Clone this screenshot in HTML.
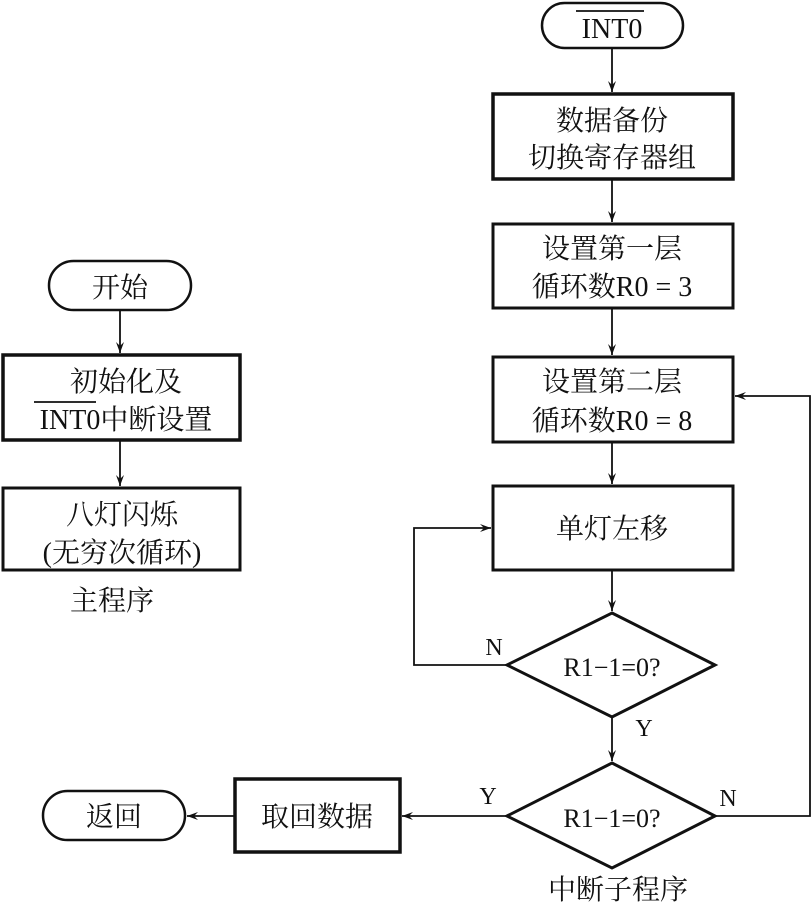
<!DOCTYPE html>
<html><head><meta charset="utf-8"><style>
html,body{margin:0;padding:0;background:#fff}
svg{display:block}
text{font-family:"Liberation Serif","Noto Serif CJK SC","Noto Sans CJK SC",serif;fill:#111}
</style></head><body>
<svg width="811" height="909" viewBox="0 0 811 909" xmlns="http://www.w3.org/2000/svg">
<defs>
<marker id="a" markerWidth="12" markerHeight="10" refX="11" refY="5" orient="auto" markerUnits="userSpaceOnUse">
<path d="M0,1 L11,5 L0,9 L4,5 Z" fill="#111"/>
</marker>
</defs>
<g stroke="#111" fill="none">
<!-- right column -->
<rect x="542" y="3" width="141" height="45" rx="22.5" stroke-width="2.5"/>
<rect x="493" y="94" width="240" height="85" stroke-width="3.5"/>
<rect x="493" y="224" width="240" height="84" stroke-width="3"/>
<rect x="493" y="357" width="240" height="85" stroke-width="3"/>
<rect x="493" y="486" width="240" height="84" stroke-width="3"/>
<polygon points="612,613 715,665 612,717 507,665" stroke-width="3"/>
<polygon points="612,763 715,816 612,868 507,816" stroke-width="3"/>
<rect x="235" y="779" width="165" height="73" stroke-width="3.5"/>
<rect x="43" y="791" width="142" height="49" rx="24.5" stroke-width="2.5"/>
<!-- left -->
<rect x="49" y="261" width="142" height="49" rx="24.5" stroke-width="2.5"/>
<rect x="3" y="355" width="237" height="85" stroke-width="3.5"/>
<rect x="3" y="488" width="237" height="82" stroke-width="3"/>
<g stroke-width="1.8">
<line x1="612" y1="48" x2="612" y2="92" marker-end="url(#a)"/>
<line x1="612" y1="179" x2="612" y2="222" marker-end="url(#a)"/>
<line x1="612" y1="308" x2="612" y2="355" marker-end="url(#a)"/>
<line x1="612" y1="442" x2="612" y2="484" marker-end="url(#a)"/>
<line x1="612" y1="570" x2="612" y2="611" marker-end="url(#a)"/>
<line x1="612" y1="717" x2="612" y2="761" marker-end="url(#a)"/>
<polyline points="507,665 414,665 414,528 491,528" marker-end="url(#a)"/>
<polyline points="715,816 810,816 810,396 735,396" marker-end="url(#a)"/>
<line x1="507" y1="816" x2="402" y2="816" marker-end="url(#a)"/>
<line x1="235" y1="816" x2="187" y2="816" marker-end="url(#a)"/>
<line x1="120" y1="310" x2="120" y2="353" marker-end="url(#a)"/>
<line x1="120" y1="440" x2="120" y2="486" marker-end="url(#a)"/>
<line x1="576" y1="11" x2="644" y2="11"/>
<line x1="34" y1="402" x2="96" y2="402"/>
</g>
</g>
<g font-size="28" text-anchor="middle">
<text x="612" y="38">INT0</text>
<text x="612" y="130">数据备份</text>
<text x="612" y="167">切换寄存器组</text>
<text x="612" y="258">设置第一层</text>
<text x="612" y="296">循环数R0 = 3</text>
<text x="612" y="391">设置第二层</text>
<text x="612" y="430">循环数R0 = 8</text>
<text x="612" y="538">单灯左移</text>
<text x="612" y="676" font-size="26">R1−1=0?</text>
<text x="612" y="827" font-size="26">R1−1=0?</text>
<text x="317" y="826">取回数据</text>
<text x="114" y="826">返回</text>
<text x="120" y="297">开始</text>
<text x="126" y="391">初始化及</text>
<text x="126" y="429">INT0中断设置</text>
<text x="122" y="524">八灯闪烁</text>
<text x="122" y="562">(无穷次循环)</text>
<text x="112" y="610">主程序</text>
<text x="618" y="899">中断子程序</text>
<text x="494" y="655" font-size="24">N</text>
<text x="644" y="736" font-size="24">Y</text>
<text x="488" y="804" font-size="24">Y</text>
<text x="728" y="806" font-size="24">N</text>
</g>
</svg>
</body></html>
